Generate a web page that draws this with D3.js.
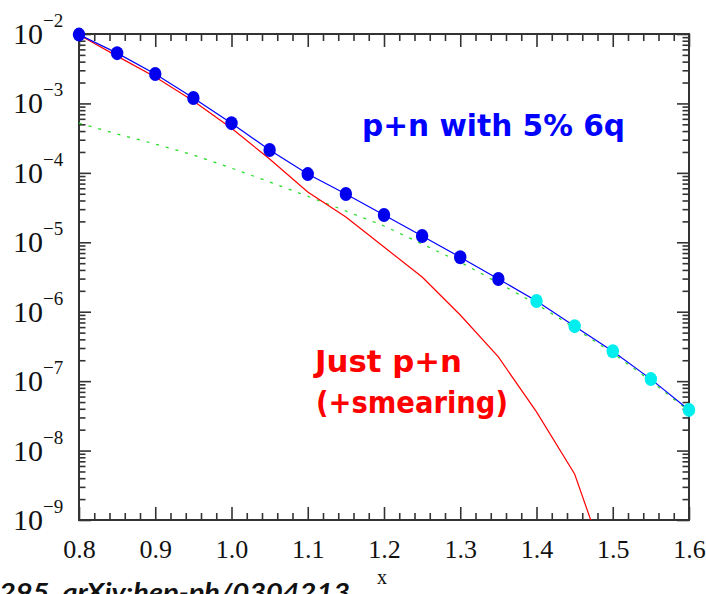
<!DOCTYPE html>
<html>
<head>
<meta charset="utf-8">
<script src="https://cdn.jsdelivr.net/npm/d3@7"></script>
<style>
  html, body { margin: 0; padding: 0; background: #fff; }
  svg { display: block; }
</style>
</head>
<body>
<svg id="chart" width="706" height="594"></svg>
<script>
// x grid shared by every curve
const xValues = [0.80, 0.85, 0.90, 0.95, 1.00, 1.05, 1.10, 1.15, 1.20, 1.25, 1.30, 1.35, 1.40, 1.45, 1.50, 1.55, 1.60];

// p+n with 5% 6q admixture (plotted as points joined by a line)
const totalValues = [9.8e-3, 5.3e-3, 2.65e-3, 1.2e-3, 5.2e-4, 2.13e-4, 9.6e-5, 4.96e-5, 2.47e-5, 1.23e-5, 6.1e-6, 2.96e-6, 1.43e-6, 6.2e-7, 2.7e-7, 1.07e-7, 3.85e-8];
// points measured in the lower-x range vs. the extended range
const pointGroup = ["low", "low", "low", "low", "low", "low", "low", "low", "low", "low", "low", "low", "high", "high", "high", "high", "high"];

// just p+n with smearing
const pnValues = [9.7e-3, 4.8e-3, 2.4e-3, 1.08e-3, 4.4e-4, 1.58e-4, 5.3e-5, 2.31e-5, 8.55e-6, 3.16e-6, 8.97e-7, 2.23e-7, 3.6e-8, 4.6e-9, 1.24e-10];

// 6q contribution alone
const sixqValues = [5.2e-4, 3.63e-4, 2.6e-4, 1.81e-4, 1.17e-4, 7.4e-5, 4.6e-5, 2.82e-5, 1.72e-5, 9.45e-6, 5.2e-6, 2.59e-6, 1.29e-6, 5.83e-7, 2.54e-7, 1.0e-7, 3.7e-8];

const xTickValues = [0.8, 0.9, 1.0, 1.1, 1.2, 1.3, 1.4, 1.5, 1.6];
const yExponents = [-2, -3, -4, -5, -6, -7, -8, -9];

const svg = d3.select("#chart");
const plotLeft = 79, plotRight = 689, plotTop = 34, plotBottom = 520;

const x = d3.scaleLinear().domain([0.8, 1.6]).range([plotLeft, plotRight]);
const y = d3.scaleLog().domain([1e-9, 1e-2]).range([plotBottom, plotTop]);

svg.append("defs").append("clipPath").attr("id", "plotArea")
  .append("rect").attr("x", plotLeft).attr("y", plotTop)
  .attr("width", plotRight - plotLeft).attr("height", plotBottom - plotTop);

// ---- ticks ----
const xMinor = d3.range(0.8, 1.6001, 0.02).map(v => +v.toFixed(2))
  .filter(v => !xTickValues.some(t => Math.abs(t - v) < 1e-6));
const yMinor = [];
for (let e = -9; e < -2; e++) for (let k = 2; k <= 9; k++) yMinor.push(k * Math.pow(10, e));
const yMajor = yExponents.map(e => Math.pow(10, e));

function styleAxis(g) {
  g.select(".domain").remove();
  g.selectAll(".tick line").attr("stroke", "#333").attr("stroke-width", 1.6);
}

// bottom axis with labels
svg.append("g").attr("transform", `translate(0,${plotBottom})`)
  .call(d3.axisBottom(x).tickValues(xTickValues).tickSize(-13).tickPadding(20)
    .tickFormat(d3.format(".1f")))
  .call(styleAxis)
  .call(g => g.selectAll("text")
    .attr("font-family", "'Liberation Serif', 'Times New Roman', serif")
    .attr("font-size", 26).attr("fill", "#111"));
svg.append("g").attr("transform", `translate(0,${plotBottom})`)
  .call(d3.axisBottom(x).tickValues(xMinor).tickSize(-7).tickFormat(""))
  .call(styleAxis);
// top axis
svg.append("g").attr("transform", `translate(0,${plotTop})`)
  .call(d3.axisTop(x).tickValues(xTickValues).tickSize(-13).tickFormat(""))
  .call(styleAxis);
svg.append("g").attr("transform", `translate(0,${plotTop})`)
  .call(d3.axisTop(x).tickValues(xMinor).tickSize(-7).tickFormat(""))
  .call(styleAxis);
// left and right axes
[[plotLeft, d3.axisLeft], [plotRight, d3.axisRight]].forEach(([pos, axisFn]) => {
  svg.append("g").attr("transform", `translate(${pos},0)`)
    .call(axisFn(y).tickValues(yMajor).tickSize(-12).tickFormat(""))
    .call(styleAxis);
  svg.append("g").attr("transform", `translate(${pos},0)`)
    .call(axisFn(y).tickValues(yMinor).tickSize(-6.5).tickFormat(""))
    .call(styleAxis);
});

// frame
svg.append("rect").attr("x", plotLeft).attr("y", plotTop)
  .attr("width", plotRight - plotLeft).attr("height", plotBottom - plotTop)
  .attr("fill", "none").attr("stroke", "#333").attr("stroke-width", 2);

// y labels as 10 with superscript exponent
const yLab = svg.append("g").attr("font-family", "'Liberation Serif', 'Times New Roman', serif").attr("fill", "#111");
yExponents.forEach(e => {
  const yy = y(Math.pow(10, e));
  yLab.append("text").attr("x", 43).attr("y", yy + 10)
    .attr("text-anchor", "end").attr("font-size", 30).text("10");
  yLab.append("text").attr("x", 43).attr("y", yy - 7)
    .attr("font-size", 19).text("\u2212" + Math.abs(e));
});

// x axis title
svg.append("text").attr("x", 382).attr("y", 584).attr("text-anchor", "middle")
  .attr("font-family", "'Liberation Serif', 'Times New Roman', serif")
  .attr("font-size", 20).attr("fill", "#111").text("x");

// ---- curves ----
const plot = svg.append("g").attr("clip-path", "url(#plotArea)");
const line = d3.line().x(d => x(d[0])).y(d => y(d[1]));

plot.append("path").datum(sixqValues.map((v, i) => [xValues[i], v]))
  .attr("d", line).attr("fill", "none").attr("stroke", "#22dd22")
  .attr("stroke-width", 1.2).attr("stroke-dasharray", "3,7");

plot.append("path").datum(pnValues.map((v, i) => [xValues[i], v]))
  .attr("d", line).attr("fill", "none").attr("stroke", "#ff0000")
  .attr("stroke-width", 1.2);

svg.append("path").datum(totalValues.map((v, i) => [xValues[i], v]))
  .attr("d", line).attr("fill", "none").attr("stroke", "#0000ff")
  .attr("stroke-width", 1.2);

svg.append("g").selectAll("ellipse")
  .data(totalValues.map((v, i) => ({ x: xValues[i], v, g: pointGroup[i] })))
  .join("ellipse")
  .attr("cx", d => x(d.x)).attr("cy", d => y(d.v))
  .attr("rx", 6.2).attr("ry", 7)
  .attr("fill", d => d.g === "low" ? "#0000ee" : "#00eeee");

// ---- annotations ----
const handFont = "'Comic Sans MS', 'DejaVu Sans', sans-serif";
svg.append("text").attr("x", 362).attr("y", 136)
  .attr("font-family", handFont).attr("font-weight", "bold").attr("font-size", 30)
  .attr("fill", "#0000ff").attr("textLength", 263).attr("lengthAdjust", "spacingAndGlyphs")
  .text("p+n with 5% 6q");
svg.append("text").attr("x", 315).attr("y", 372)
  .attr("font-family", handFont).attr("font-weight", "bold").attr("font-size", 31)
  .attr("fill", "#ff0000").attr("textLength", 147).attr("lengthAdjust", "spacingAndGlyphs")
  .text("Just p+n");
svg.append("text").attr("x", 316).attr("y", 413)
  .attr("font-family", handFont).attr("font-weight", "bold").attr("font-size", 31)
  .attr("fill", "#ff0000").attr("textLength", 192).attr("lengthAdjust", "spacingAndGlyphs")
  .text("(+smearing)");

// citation line running off the lower edge
svg.append("text").attr("x", -1).attr("y", 601)
  .attr("font-family", "Lato, 'Open Sans', sans-serif").attr("font-weight", "bold")
  .attr("font-style", "italic").attr("font-size", 24).attr("fill", "#111")
  .attr("textLength", 351).attr("lengthAdjust", "spacingAndGlyphs")
  .text("295, arXiv:hep-ph/0304213");
</script>
</body>
</html>
